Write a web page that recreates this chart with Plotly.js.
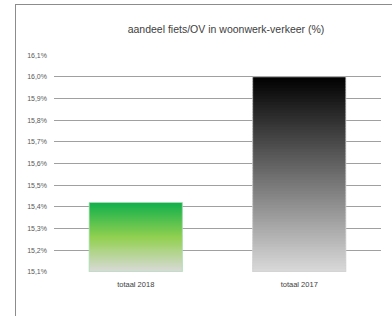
<!DOCTYPE html>
<html><head><meta charset="utf-8">
<script src="https://cdn.plot.ly/plotly-3.0.1.min.js"></script>
<style>
html,body{margin:0;padding:0;background:#fff;}
#wrap{position:relative;width:392px;height:316px;overflow:hidden;}
#frame{position:absolute;left:15px;top:4px;width:400px;height:400px;border-left:1px solid #8c8c8c;border-top:1px solid #8c8c8c;pointer-events:none;}
#chart{position:absolute;left:0;top:0;width:392px;height:316px;}
</style></head>
<body><div id="wrap"><div id="chart"></div><div id="frame"></div></div>
<script>
const categories = ['totaal 2018', 'totaal 2017'];
const values = [15.42, 16.0];
const axisMin = 15.1;
const axisMax = 16.1;
// gradient stops per bar (top -> bottom), as [fraction, [r,g,b]]
const gradientStops = [
  [[0,[16,176,76]],[0.5,[146,208,80]],[1,[218,218,218]]],
  [[0,[0,0,0]],[1,[218,218,218]]]
];
const outlineColors = ['#a9dfb5','#cfcfcf'];

function colorAt(stops, t){
  for(let k=0;k<stops.length-1;k++){
    const a=stops[k], b=stops[k+1];
    if(t>=a[0] && t<=b[0]){
      const u=(t-a[0])/(b[0]-a[0]);
      const c=a[1].map((v,j)=>Math.round(v+(b[1][j]-v)*u));
      return 'rgb('+c.join(',')+')';
    }
  }
  const last=stops[stops.length-1][1];
  return 'rgb('+last.join(',')+')';
}

const nSeg = 70;
const traces = [];
for(let s=0;s<nSeg;s++){
  const bases=[], heights=[], cols=[];
  values.forEach((v,i)=>{
    const step=(v-axisMin)/nSeg;
    bases.push(axisMin + s*step);
    heights.push(step*1.6);
    const tTop = 1 - (s+1)/nSeg; // fraction from top
    cols.push(colorAt(gradientStops[i], Math.max(0,tTop + 0.5/nSeg)));
  });
  // make top segment end exactly at value
  if(s===nSeg-1){ values.forEach((v,i)=>{ heights[i]=v-bases[i]; }); }
  traces.push({type:'bar', x:categories, y:heights, base:bases, width:0.57,
    marker:{color:cols, line:{width:0}}, hoverinfo:'none', showlegend:false});
}
// outline trace
traces.push({type:'bar', x:categories, y:values.map(v=>v-axisMin), base:values.map(()=>axisMin), width:0.57,
  marker:{color:'rgba(0,0,0,0)', line:{width:0.8, color:outlineColors}}, hoverinfo:'none', showlegend:false});

const layout = {
  width:392, height:316,
  margin:{l:54, r:11, t:55, b:44},
  paper_bgcolor:'#fff', plot_bgcolor:'#fff',
  separators:',.',
  barmode:'overlay',
  showlegend:false,
  title:{text:'aandeel fiets/OV in woonwerk-verkeer (%)', x:226/392, xref:'container', xanchor:'center', y:1-29/316, yref:'container', yanchor:'middle',
    font:{family:'Liberation Sans, Arial, sans-serif', size:10.5, color:'#404040'}},
  xaxis:{type:'category', showgrid:false, zeroline:false, showline:false, ticks:'',
    ticklabelstandoff:6,
    tickfont:{family:'Liberation Sans, Arial, sans-serif', size:7.5, color:'#404040'}},
  yaxis:{range:[axisMin-0.0005, axisMax+0.0005], dtick:0.1, tick0:axisMin, tickformat:'.1f', ticksuffix:'%',
    showgrid:true, gridcolor:'#a0a0a0', gridwidth:1, zeroline:false, showline:false, ticks:'',
    ticklabelstandoff:6,
    tickfont:{family:'Liberation Sans, Arial, sans-serif', size:7, color:'#595959'}}
};
Plotly.newPlot('chart',traces,layout,{displayModeBar:false, staticPlot:true});
</script></body></html>
